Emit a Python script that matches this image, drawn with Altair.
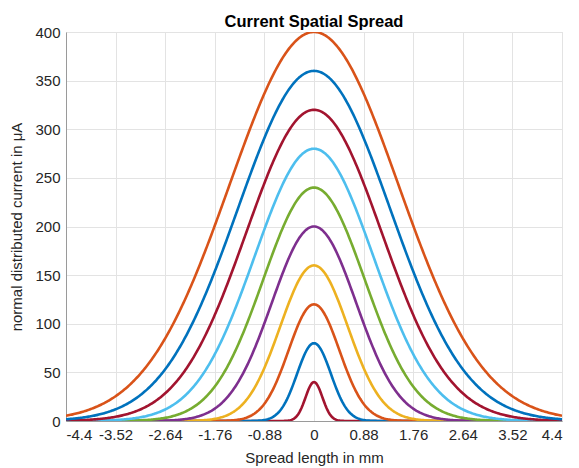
import numpy as np
import pandas as pd
import altair as alt

# values
peaks = [40, 80, 120, 160, 200, 240, 280, 320, 360, 400]          # peak current (uA)
sigmas = [0.15, 0.30, 0.45, 0.60, 0.75, 0.90, 1.05, 1.20, 1.35, 1.50]  # spread (mm)
series = ["c1", "c2", "c3", "c4", "c5", "c6", "c7", "c8", "c9", "c10"]
colors = ["#A2142F", "#0072BD", "#D95319", "#EDB120", "#7E2F8E",
          "#77AC30", "#4DBEEE", "#A2142F", "#0072BD", "#D95319"]
x_ticks = [-4.4, -3.52, -2.64, -1.76, -0.88, 0, 0.88, 1.76, 2.64, 3.52, 4.4]
y_ticks = [0, 50, 100, 150, 200, 250, 300, 350, 400]

xs = np.linspace(-4.4, 4.4, 441)
rows = []
for s, a, sg in zip(series, peaks, sigmas):
    ys = a * np.exp(-xs**2 / (2 * sg**2))
    for x, y in zip(xs, ys):
        rows.append({"x": float(x), "y": float(y), "series": s})
df = pd.DataFrame(rows)

FONT = "Liberation Sans"
TXT = "#262626"
axis_style = dict(labelFont=FONT, titleFont=FONT, labelFontSize=15, titleFontSize=15,
                  labelColor=TXT, titleColor=TXT, titleFontWeight="normal",
                  gridColor="#e3e3e3", gridWidth=1, domainColor="#9a9a9a",
                  domainWidth=1, grid=True, ticks=False)

chart = alt.Chart(df).mark_line(strokeWidth=2.6, clip=True).encode(
    x=alt.X("x:Q",
            scale=alt.Scale(domain=[-4.4, 4.4], nice=False, zero=False),
            axis=alt.Axis(values=x_ticks, labelExpr="'' + datum.value",
                          title="Spread length in mm",
                          labelPadding=6, titlePadding=8, **axis_style)),
    y=alt.Y("y:Q",
            scale=alt.Scale(domain=[0, 400], nice=False),
            axis=alt.Axis(values=y_ticks, title="normal distributed current in μA",
                          labelPadding=6, titlePadding=10, **axis_style)),
    color=alt.Color("series:N", scale=alt.Scale(domain=series, range=colors), legend=None),
    detail="series:N",
).properties(
    width=496, height=389,
    title=alt.TitleParams("Current Spatial Spread", font=FONT, fontSize=16.5,
                          fontWeight="bold", color="#000000", offset=-5),
    autosize=alt.AutoSizeParams(type="none"),
    padding={"left": 66, "top": 32, "right": 17, "bottom": 47},
).configure_view(
    stroke="#9a9a9a", strokeWidth=1
).configure(background="white")

chart.save("out.html", embed_options={"renderer": "svg", "actions": False})
